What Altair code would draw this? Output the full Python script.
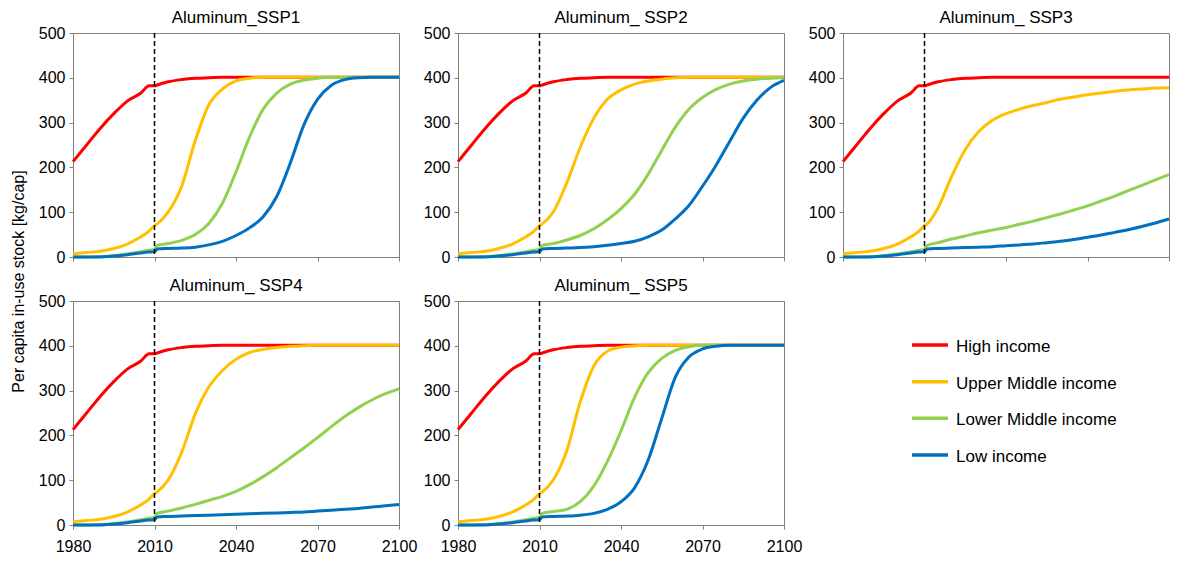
import altair as alt
import pandas as pd

FONT = "Liberation Sans"

INCOME = ["High income", "Upper Middle income", "Lower Middle income", "Low income"]
COLORS = ["#FF0000", "#FFC000", "#92D050", "#0070C0"]
TITLES = ["Aluminum_SSP1", "Aluminum_ SSP2", "Aluminum_ SSP3", "Aluminum_ SSP4", "Aluminum_ SSP5"]
Y_TITLE = ["Per capita in-use stock [kg/cap]"]
X_TICKS = [1980, 2010, 2040, 2070, 2100]
Y_TICKS = [0, 100, 200, 300, 400, 500]
BASE_YEAR = [2010]

HIST_YEARS = [1980, 1985, 1990, 1995, 2000, 2005, 2008, 2010]
HIST_HIGH = [213, 250, 287, 320, 348, 366, 382, 382]
HIST_UPPER = [7, 10, 13, 19, 29, 45, 58, 70]
HIST_LOWER = [0, 0, 1, 3, 7, 12, 15, 17]
HIST_LOW = [0, 0, 0, 2, 5, 9, 11, 12]

PROJ_YEARS = [2011, 2015, 2020, 2025, 2030, 2035, 2040, 2045, 2050, 2055,
              2060, 2065, 2070, 2075, 2080, 2085, 2090, 2095, 2100]

HIGH_ALL = [384, 391, 396, 399, 400, 401, 401, 401, 401, 401, 401, 401, 401, 401, 401, 401, 401, 401, 401]

SSP1_UPPER = [74, 100, 158, 260, 340, 375, 393, 399, 401, 401, 401, 401, 401, 401, 401, 401, 401, 401, 401]
SSP1_LOWER = [26, 30, 37, 50, 75, 120, 190, 268, 330, 366, 386, 395, 399, 401, 401, 401, 401, 401, 401]
SSP1_LOW = [18, 19, 20, 22, 27, 35, 48, 65, 90, 135, 210, 295, 352, 383, 396, 400, 401, 401, 401]

SSP2_UPPER = [74, 100, 165, 245, 310, 352, 373, 386, 393, 397, 400, 401, 401, 401, 401, 401, 401, 401, 401]
SSP2_LOWER = [26, 30, 38, 48, 63, 83, 108, 140, 185, 238, 290, 330, 356, 374, 386, 393, 397, 399, 400]
SSP2_LOW = [18, 19, 20, 21, 23, 26, 30, 35, 45, 60, 85, 115, 158, 205, 258, 310, 350, 378, 394]

SSP3_UPPER = [74, 110, 180, 240, 280, 305, 320, 330, 338, 345, 352, 357, 362, 366, 370, 373, 375, 377, 378]
SSP3_LOWER = [26, 32, 40, 47, 54, 60, 66, 73, 80, 88, 96, 105, 114, 125, 136, 148, 160, 172, 184]
SSP3_LOW = [18, 19, 20, 21, 22, 23, 25, 27, 29, 32, 35, 39, 44, 49, 55, 61, 68, 76, 85]

SSP4_UPPER = [74, 100, 162, 248, 308, 345, 370, 385, 392, 396, 399, 400, 401, 401, 401, 401, 401, 401, 401]
SSP4_LOWER = [26, 31, 38, 46, 55, 64, 75, 90, 108, 128, 150, 172, 195, 219, 242, 262, 279, 293, 304]
SSP4_LOW = [18, 19, 20, 21, 22, 23, 24, 25, 26, 27, 28, 29, 31, 33, 35, 37, 40, 43, 46]

SSP5_UPPER = [74, 100, 165, 275, 355, 388, 397, 400, 401, 401, 401, 401, 401, 401, 401, 401, 401, 401, 401]
SSP5_LOWER = [26, 30, 35, 52, 87, 142, 210, 285, 340, 372, 390, 398, 401, 401, 401, 401, 401, 401, 401]
SSP5_LOW = [18, 19, 20, 22, 26, 35, 52, 83, 145, 238, 330, 375, 393, 399, 401, 401, 401, 401, 401]

SCENARIO_PROJ = [
    (SSP1_UPPER, SSP1_LOWER, SSP1_LOW),
    (SSP2_UPPER, SSP2_LOWER, SSP2_LOW),
    (SSP3_UPPER, SSP3_LOWER, SSP3_LOW),
    (SSP4_UPPER, SSP4_LOWER, SSP4_LOW),
    (SSP5_UPPER, SSP5_LOWER, SSP5_LOW),
]

GRAY = "#808080"
W, H = 326, 224

color_scale = alt.Scale(domain=INCOME, range=COLORS)


def panel_df(proj):
    rows = []
    hist = [HIST_HIGH, HIST_UPPER, HIST_LOWER, HIST_LOW]
    fut = [HIGH_ALL, proj[0], proj[1], proj[2]]
    for name, h, f in zip(INCOME, hist, fut):
        for y, v in zip(HIST_YEARS, h):
            rows.append({"income": name, "year": y, "value": v})
        for y, v in zip(PROJ_YEARS, f):
            rows.append({"income": name, "year": y, "value": v})
    return pd.DataFrame(rows)


def panel(i):
    df = panel_df(SCENARIO_PROJ[i])
    show_labels = i >= 3
    x_axis = alt.Axis(values=X_TICKS, format="d", labels=show_labels, ticks=True,
                      tickSize=4, labelPadding=9, labelFlush=False, title="")
    y_axis = alt.Axis(values=Y_TICKS, tickSize=4, labelPadding=4, title="")
    lines = alt.Chart(df).mark_line(strokeWidth=3, interpolate="monotone").encode(
        x=alt.X("year:Q", scale=alt.Scale(domain=[1980, 2100], nice=False), axis=x_axis),
        y=alt.Y("value:Q", scale=alt.Scale(domain=[0, 500], nice=False), axis=y_axis),
        color=alt.Color("income:N", scale=color_scale, legend=None),
        detail="income:N",
    )
    rule = alt.Chart(pd.DataFrame({"year": BASE_YEAR})).mark_rule(
        color="#000000", strokeWidth=1.5, strokeDash=[5, 3]
    ).encode(x="year:Q")
    title = alt.Chart(pd.DataFrame({"t": [TITLES[i]]})).mark_text(
        align="center", baseline="top", font=FONT, fontSize=17, color="#000000"
    ).encode(x=alt.value(W / 2), y=alt.value(-23), text="t:N")
    layers = [lines, rule, title]
    if i == 0:
        ytitle = alt.Chart(pd.DataFrame({"t": Y_TITLE})).mark_text(
            align="center", baseline="alphabetic", angle=270, font=FONT,
            fontSize=16, color="#000000"
        ).encode(x=alt.value(-49.5), y=alt.value(248.5), text="t:N")
        layers.append(ytitle)
    return alt.layer(*layers).properties(width=W, height=H)


legend_df = pd.DataFrame({"income": INCOME, "rank": [0, 1, 2, 3]})
ly = alt.Y("rank:Q", scale=alt.Scale(domain=[0, 3], range=[44, 154]), axis=None)
legend_rules = alt.Chart(legend_df).mark_rule(strokeWidth=3.5).encode(
    x=alt.value(69), x2=alt.value(105), y=ly,
    color=alt.Color("income:N", scale=color_scale, legend=None),
)
legend_text = alt.Chart(legend_df).mark_text(
    align="left", baseline="middle", dy=2, fontSize=17, font=FONT, color="#000000"
).encode(x=alt.value(113), y=ly, text="income:N")
legend_chart = alt.layer(legend_rules, legend_text).properties(
    width=W, height=H, view=alt.ViewBackground(stroke="transparent")
)

chart = alt.concat(
    panel(0), panel(1), panel(2), panel(3), panel(4), legend_chart,
    columns=3, spacing={"row": 44, "column": 59}, bounds="flush",
).properties(
    padding={"left": 2, "top": 0, "right": 0, "bottom": 0},
    background="#FFFFFF",
).configure_view(
    stroke=GRAY, strokeWidth=1
).configure_axis(
    grid=False, domainColor=GRAY, tickColor=GRAY, domainWidth=1, tickWidth=1,
    labelFont=FONT, labelFontSize=16, labelColor="#000000",
)

chart.save("out.html", embed_options={"renderer": "svg", "actions": False})
